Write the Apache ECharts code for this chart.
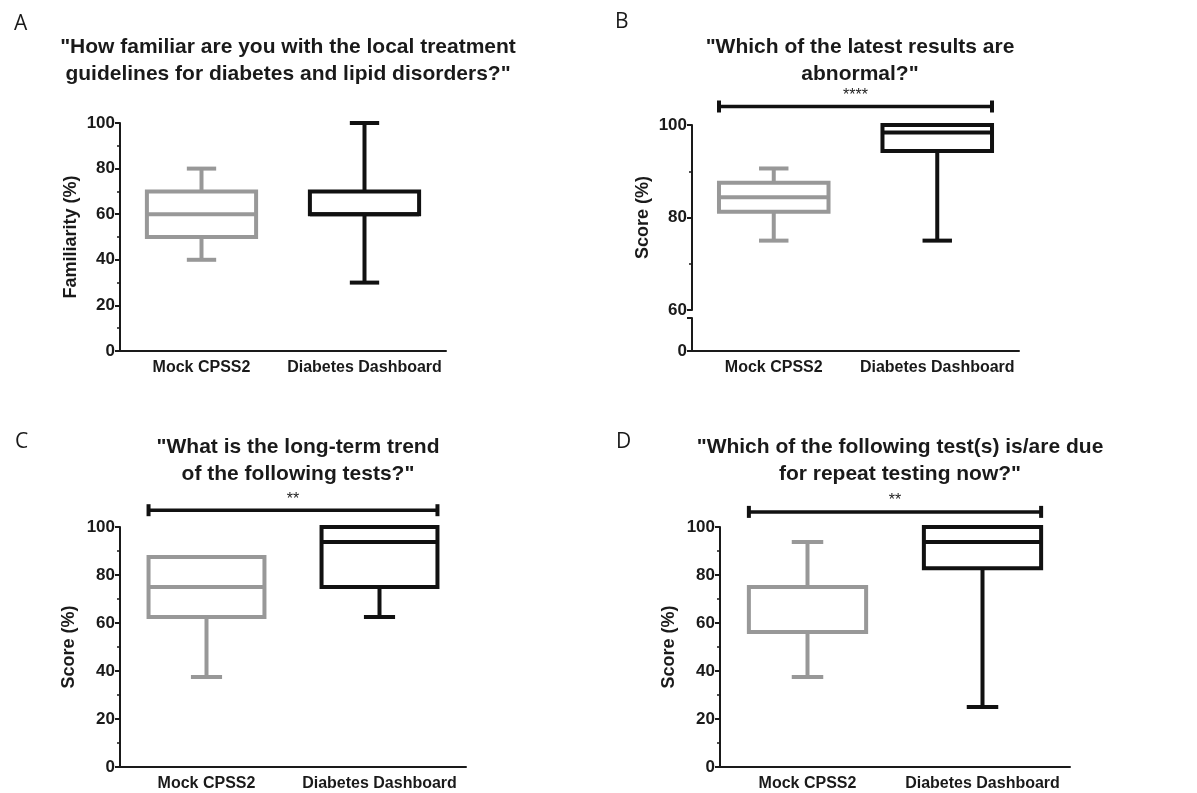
<!DOCTYPE html>
<html>
<head>
<meta charset="utf-8">
<script src="https://cdn.jsdelivr.net/npm/echarts@6/dist/echarts.min.js"></script>
<style>
html, body { margin: 0; padding: 0; background: #fff; }
#chart { width: 1197px; height: 793px; }
</style>
</head>
<body>
<div id="chart"></div>
<script>
var groups = ['Mock CPSS2', 'Diabetes Dashboard'];
var groupColors = ['#989898', '#111111'];

// [min, Q1, median, Q3, max] per group
var boxA = [[40, 50, 60, 70, 80], [30, 60, 60, 70, 100]];
var boxB = [[75, 81.25, 84.4, 87.5, 90.6], [75, 94.4, 98.4, 100, 100]];
var boxC = [[37.5, 62.5, 75, 87.5, 87.5], [62.5, 75, 93.75, 100, 100]];
var boxD = [[37.5, 56.25, 56.25, 75, 93.75], [25, 82.8, 93.75, 100, 100]];

var titles = [
    '"How familiar are you with the local treatment\nguidelines for diabetes and lipid disorders?"',
    '"Which of the latest results are\nabnormal?"',
    '"What is the long-term trend\nof the following tests?"',
    '"Which of the following test(s) is/are due\nfor repeat testing now?"'
];
var yNames = ['Familiarity (%)', 'Score (%)', 'Score (%)', 'Score (%)'];
// significance bar: [height in axis units, stars]
var sigB = [104, '****'];
var sigC = [107, '**'];
var sigD = [106.3, '**'];

var txt = '#1a1a1a';
var font = 'Liberation Sans, Arial, sans-serif';

function boxData(arr) {
    return arr.map(function (d, i) {
        return [i].concat(d);
    });
}

function renderBox(params, api) {
    var idx = api.value(0);
    var c = api.coord([idx, api.value(3)]);
    var band = api.size([1, 0])[0];
    var half = band * 0.335;
    var capHalf = band * 0.09;
    var yMin = api.coord([idx, api.value(1)])[1];
    var yQ1 = api.coord([idx, api.value(2)])[1];
    var yMed = c[1];
    var yQ3 = api.coord([idx, api.value(4)])[1];
    var yMax = api.coord([idx, api.value(5)])[1];
    var x = c[0];
    var st = { stroke: groupColors[idx], lineWidth: 4, fill: null };
    var children = [];
    if (yMax < yQ3 - 0.5) {
        children.push({ type: 'line', shape: { x1: x, y1: yQ3, x2: x, y2: yMax }, style: st });
        children.push({ type: 'line', shape: { x1: x - capHalf, y1: yMax, x2: x + capHalf, y2: yMax }, style: st });
    }
    if (yMin > yQ1 + 0.5) {
        children.push({ type: 'line', shape: { x1: x, y1: yQ1, x2: x, y2: yMin }, style: st });
        children.push({ type: 'line', shape: { x1: x - capHalf, y1: yMin, x2: x + capHalf, y2: yMin }, style: st });
    }
    children.push({
        type: 'rect',
        shape: { x: x - half, y: yQ3, width: half * 2, height: yQ1 - yQ3 },
        style: { stroke: groupColors[idx], lineWidth: 4, fill: '#fff' }
    });
    children.push({ type: 'line', shape: { x1: x - half, y1: yMed, x2: x + half, y2: yMed }, style: st });
    return { type: 'group', children: children };
}

function renderSig(params, api) {
    var band = api.size([1, 0])[0];
    var p0 = api.coord([0, api.value(1)]);
    var p1 = api.coord([1, api.value(1)]);
    var x0 = p0[0] - band * 0.335;
    var x1 = p1[0] + band * 0.335;
    var y = p0[1];
    var st = { stroke: '#111', lineWidth: 3.5 };
    return {
        type: 'group',
        children: [
            { type: 'line', shape: { x1: x0, y1: y, x2: x1, y2: y }, style: st },
            { type: 'line', shape: { x1: x0, y1: y - 6, x2: x0, y2: y + 6 }, style: { stroke: '#111', lineWidth: 4 } },
            { type: 'line', shape: { x1: x1, y1: y - 6, x2: x1, y2: y + 6 }, style: { stroke: '#111', lineWidth: 4 } },
            {
                type: 'text',
                style: {
                    text: api.value(2), x: (x0 + x1) / 2, y: y - 3,
                    align: 'center', verticalAlign: 'bottom',
                    fontSize: 16, fontFamily: font, fill: '#222'
                }
            }
        ]
    };
}

function xAxisFor(gi, show) {
    return {
        type: 'category', gridIndex: gi, data: groups, show: show,
        axisLine: { lineStyle: { color: txt, width: 2 } },
        axisTick: { alignWithLabel: true, length: 5, lineStyle: { color: txt, width: 2 } },
        axisLabel: { interval: 0, hideOverlap: false, color: txt, fontSize: 16, fontWeight: 'bold', fontFamily: font, margin: 9 }
    };
}

function yAxisFor(gi, min, max, interval, name, nameGap) {
    return {
        type: 'value', gridIndex: gi, min: min, max: max, interval: interval,
        name: name, nameLocation: 'middle', nameGap: nameGap,
        nameTextStyle: { color: txt, fontSize: 18, fontWeight: 'bold', fontFamily: font },
        splitLine: { show: false },
        axisLine: { show: true, lineStyle: { color: txt, width: 2 } },
        axisTick: { show: true, length: 5, lineStyle: { color: txt, width: 2 } },
        minorTick: { show: true, splitNumber: 2, length: 3, lineStyle: { color: txt, width: 1.5 } },
        axisLabel: { color: txt, fontSize: 17, fontWeight: 'bold', fontFamily: font, margin: 5 }
    };
}

var grids = [
    { left: 120, width: 326, top: 123, height: 228 },
    { left: 692, width: 327, top: 125, height: 185 },
    { left: 692, width: 327, top: 318, height: 33 },
    { left: 120, width: 346, top: 527, height: 240 },
    { left: 720, width: 350, top: 527, height: 240 }
];

var yB2 = yAxisFor(2, 0, 10, 10, '', 0);
yB2.minorTick = { show: false };
yB2.axisLabel.formatter = function (v) { return v === 0 ? '0' : ''; };

var option = {
    animation: false,
    backgroundColor: '#fff',
    title: [
        { text: 'A', left: 9, top: 9, textStyle: { fontSize: 21, fontWeight: 'normal', fontFamily: 'Open Sans', color: txt } },
        { text: 'B', left: 610, top: 7, textStyle: { fontSize: 21, fontWeight: 'normal', fontFamily: 'Open Sans', color: txt } },
        { text: 'C', left: 10, top: 427, textStyle: { fontSize: 21, fontWeight: 'normal', fontFamily: 'Open Sans', color: txt } },
        { text: 'D', left: 611, top: 427, textStyle: { fontSize: 21, fontWeight: 'normal', fontFamily: 'Open Sans', color: txt } },
        { text: titles[0], left: 283, top: 29, textAlign: 'center', textStyle: { fontSize: 21, lineHeight: 27, fontWeight: 'bold', fontFamily: font, color: txt } },
        { text: titles[1], left: 855, top: 29, textAlign: 'center', textStyle: { fontSize: 21, lineHeight: 27, fontWeight: 'bold', fontFamily: font, color: txt } },
        { text: titles[2], left: 293, top: 429, textAlign: 'center', textStyle: { fontSize: 21, lineHeight: 27, fontWeight: 'bold', fontFamily: font, color: txt } },
        { text: titles[3], left: 895, top: 429, textAlign: 'center', textStyle: { fontSize: 21, lineHeight: 27, fontWeight: 'bold', fontFamily: font, color: txt } }
    ],
    grid: grids,
    xAxis: [xAxisFor(0, true), xAxisFor(1, false), xAxisFor(2, true), xAxisFor(3, true), xAxisFor(4, true)],
    yAxis: [
        yAxisFor(0, 0, 100, 20, yNames[0], 40),
        yAxisFor(1, 60, 100, 20, yNames[1], 40),
        yB2,
        yAxisFor(3, 0, 100, 20, yNames[2], 42),
        yAxisFor(4, 0, 100, 20, yNames[3], 42)
    ],
    series: [
        { type: 'custom', xAxisIndex: 0, yAxisIndex: 0, renderItem: renderBox, data: boxData(boxA), clip: false },
        { type: 'custom', xAxisIndex: 1, yAxisIndex: 1, renderItem: renderBox, data: boxData(boxB), clip: false },
        { type: 'custom', xAxisIndex: 3, yAxisIndex: 3, renderItem: renderBox, data: boxData(boxC), clip: false },
        { type: 'custom', xAxisIndex: 4, yAxisIndex: 4, renderItem: renderBox, data: boxData(boxD), clip: false },
        { type: 'custom', xAxisIndex: 1, yAxisIndex: 1, renderItem: renderSig, data: [[0, sigB[0], sigB[1]]], clip: false },
        { type: 'custom', xAxisIndex: 3, yAxisIndex: 3, renderItem: renderSig, data: [[0, sigC[0], sigC[1]]], clip: false },
        { type: 'custom', xAxisIndex: 4, yAxisIndex: 4, renderItem: renderSig, data: [[0, sigD[0], sigD[1]]], clip: false }
    ]
};

var myChart = echarts.init(document.getElementById('chart'));
myChart.setOption(option);
</script>
</body>
</html>
